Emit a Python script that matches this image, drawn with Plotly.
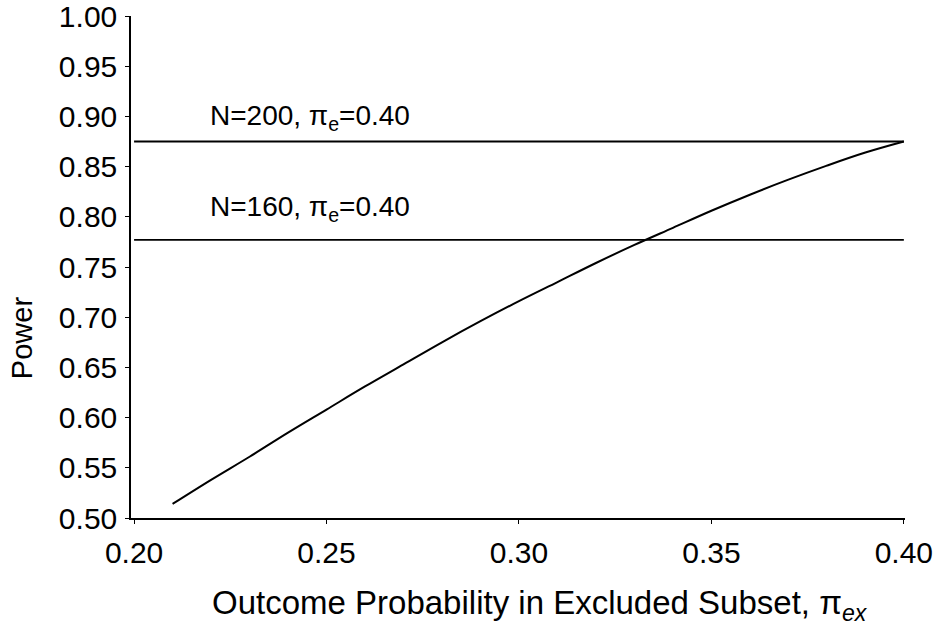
import plotly.graph_objects as go

# Data
pi_ex = [0.21, 0.22, 0.23, 0.24, 0.25, 0.26, 0.27, 0.28, 0.29, 0.30,
         0.31, 0.32, 0.33, 0.34, 0.35, 0.36, 0.37, 0.38, 0.39, 0.40]
power = [0.514, 0.538, 0.561, 0.585, 0.608, 0.631, 0.653, 0.675, 0.696, 0.716,
         0.735, 0.754, 0.772, 0.789, 0.806, 0.822, 0.837, 0.851, 0.864, 0.875]

ref_x = [0.20, 0.40]
power_n200 = 0.875
power_n160 = 0.777

label_n200 = "N=200, π<sub>e</sub>=0.40"
label_n160 = "N=160, π<sub>e</sub>=0.40"
x_title = "Outcome Probability in Excluded Subset, π<sub><i>ex</i></sub>"
y_title = "Power"

x_ticks = [0.20, 0.25, 0.30, 0.35, 0.40]
y_ticks = [0.50, 0.55, 0.60, 0.65, 0.70, 0.75, 0.80, 0.85, 0.90, 0.95, 1.00]

FONT = "Liberation Sans, Arial, sans-serif"

fig = go.Figure()
fig.add_trace(go.Scatter(x=ref_x, y=[power_n200] * 2, mode="lines",
                         line=dict(color="black", width=1.8), showlegend=False))
fig.add_trace(go.Scatter(x=ref_x, y=[power_n160] * 2, mode="lines",
                         line=dict(color="black", width=1.8), showlegend=False))
fig.add_trace(go.Scatter(x=pi_ex, y=power, mode="lines", line_shape="spline",
                         line=dict(color="black", width=2), showlegend=False))

fig.add_annotation(x=0.2192, y=0.8990, xref="x", yref="y", text=label_n200,
                   showarrow=False, xanchor="left", yanchor="middle",
                   font=dict(family=FONT, size=28, color="black"))
fig.add_annotation(x=0.2192, y=0.8085, xref="x", yref="y", text=label_n160,
                   showarrow=False, xanchor="left", yanchor="middle",
                   font=dict(family=FONT, size=28, color="black"))
fig.add_annotation(x=0.528, y=-0.173, xref="paper", yref="paper", text=x_title,
                   showarrow=False, xanchor="center", yanchor="middle",
                   font=dict(family=FONT, size=33, color="black"))
fig.add_annotation(x=-0.141, y=0.36, xref="paper", yref="paper", text=y_title,
                   showarrow=False, xanchor="center", yanchor="middle", textangle=-90,
                   font=dict(family=FONT, size=29, color="black"))

fig.update_layout(
    width=935, height=642,
    margin=dict(l=131, r=30, t=16, b=124),
    paper_bgcolor="white", plot_bgcolor="white",
    font=dict(family=FONT, size=30, color="black"),
    xaxis=dict(range=[0.1992, 0.4003], tickvals=x_ticks,
               ticktext=[f"{v:.2f}" for v in x_ticks], automargin=False,
               ticklabeloverflow="allow",
               showgrid=False, zeroline=False, showline=True, linecolor="black",
               linewidth=1.5, ticks="outside", ticklen=4, tickcolor="black",
               tickwidth=1, ticklabelstandoff=3),
    yaxis=dict(range=[0.50, 1.00], tickvals=y_ticks,
               ticktext=[f"{v:.2f}" for v in y_ticks], automargin=False,
               ticklabeloverflow="allow",
               showgrid=False, zeroline=False, showline=True, linecolor="black",
               linewidth=1.5, ticks="outside", ticklen=4, tickcolor="black",
               tickwidth=1, ticklabelstandoff=2),
)

fig.write_html("out.html", config={"displayModeBar": False},
               post_script="document.body.style.margin='0';document.body.style.overflow='hidden';")
